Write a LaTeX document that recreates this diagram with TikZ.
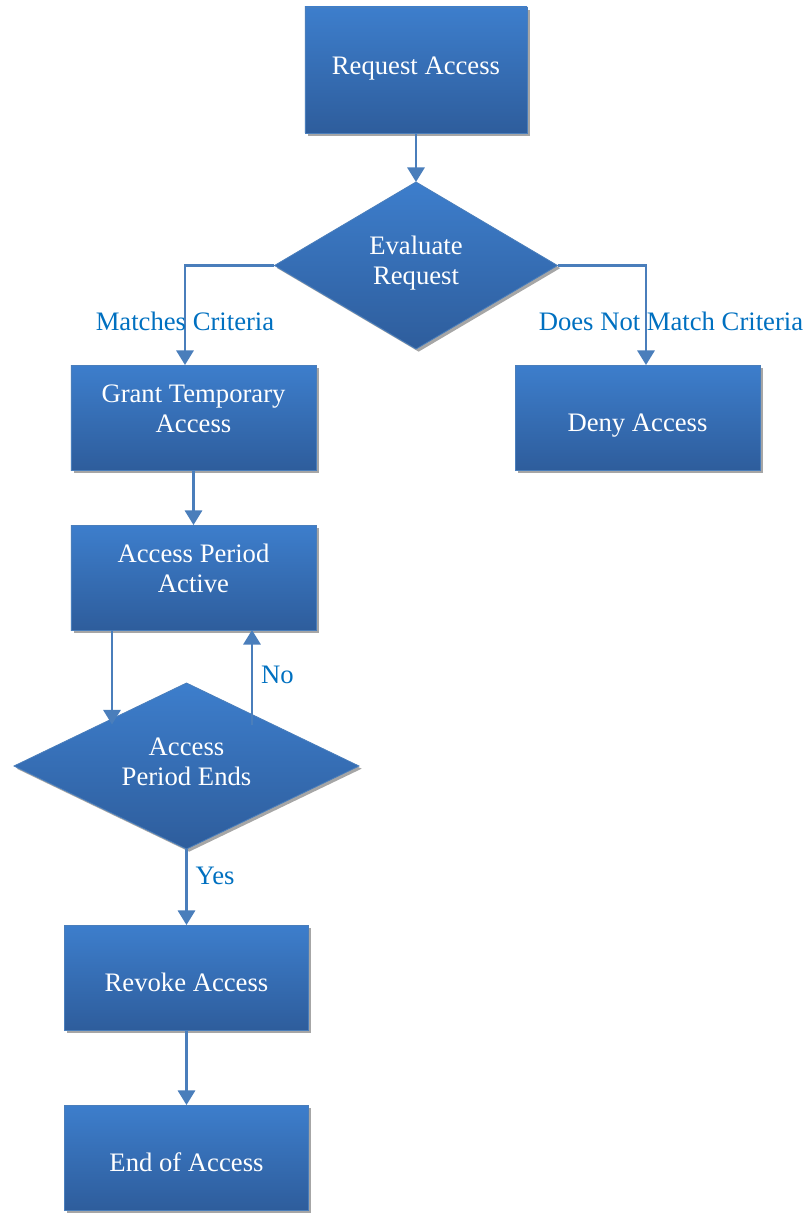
\documentclass[tikz,border=0pt]{standalone}
\usepackage{fontspec}
\setmainfont{Liberation Serif}
\usetikzlibrary{positioning,shapes.geometric,shadows,arrows.meta}

\definecolor{boxtop}{HTML}{3D7ECC}
\definecolor{boxbot}{HTML}{2E5D9C}
\definecolor{boxline}{HTML}{4A7EBB}
\definecolor{lblblue}{HTML}{0070C0}

\tikzset{
  box/.style={rectangle, top color=boxtop, bottom color=boxbot, draw=boxline, line width=0.6pt,
    outer sep=0pt, minimum width=183.75pt, minimum height=78.75pt, align=center, text=white,
    font=\fontsize{20pt}{22.5pt}\selectfont,
    drop shadow={shadow xshift=2pt, shadow yshift=-2pt, fill=black!35, opacity=1}},
  decision/.style={diamond, top color=boxtop, bottom color=boxbot, draw=boxline, line width=0.6pt,
    outer sep=0pt, inner sep=0pt, align=center, text=white, font=\fontsize{20pt}{22.5pt}\selectfont,
    drop shadow={shadow xshift=2pt, shadow yshift=-2pt, fill=black!35, opacity=1}},
  oneline/.style={text height=25pt, text depth=4pt},
  twoline/.style={text depth=#1},
  arrow/.style={draw=boxline, line width=1.8pt, -{Triangle[width=13pt,length=11pt]}},
  lbl/.style={text=lblblue, font=\fontsize{20pt}{22.5pt}\selectfont, inner sep=2pt},
}

\begin{document}
\begin{tikzpicture}
  \useasboundingbox (-312pt,-857.25pt) rectangle (292.5pt,52.5pt);

  \node[box, minimum width=166.5pt, minimum height=94.5pt, text height=14pt, text depth=7pt]
    (request) at (0,0) {Request Access};
  \node[decision, minimum width=212.25pt, minimum height=125.25pt, aspect=1.7, twoline=8pt,
    below=36.75pt of request] (evaluate) {Evaluate\\Request};
  \node[box, twoline=13pt, below=12pt of evaluate.south, anchor=north, xshift=-166.875pt]
    (grant) {Grant Temporary\\Access};
  \node[box, oneline, right=149.25pt of grant] (deny) {Deny Access};
  \node[box, twoline=14.5pt, below=41.25pt of grant] (active) {Access Period\\Active};
  \node[decision, minimum width=258.75pt, minimum height=124.5pt, aspect=2.08, twoline=7pt,
    below=39.75pt of active.south, anchor=north, xshift=-5.25pt] (ends) {Access\\Period Ends};
  \node[box, oneline, minimum width=183pt, below=57pt of ends] (revoke) {Revoke Access};
  \node[box, oneline, minimum width=183pt, below=56.25pt of revoke] (endaccess) {End of Access};

  \draw[arrow] (request) -- (evaluate);
  \draw[arrow] (evaluate.west) -| ([xshift=-6.375pt]grant.north)
    node[lbl, pos=0.78] {Matches Criteria};
  \draw[arrow] (evaluate.east) -| ([xshift=6.375pt]deny.north)
    node[lbl, pos=0.78, xshift=18.75pt] {Does Not Match Criteria};
  \draw[arrow] (grant) -- (active);
  \draw[arrow] ([xshift=-61.125pt]active.south) -- ([xshift=-61.125pt]active.south |- ends.north west);
  \draw[arrow] ([xshift=43.875pt]active.south |- ends.north east) -- ([xshift=43.875pt]active.south)
    node[lbl, right, midway, xshift=4pt, yshift=2pt] {No};
  \draw[arrow] (ends) -- (revoke) node[lbl, right, pos=0.35, xshift=4pt] {Yes};
  \draw[arrow] (revoke) -- (endaccess);
\end{tikzpicture}
\end{document}
